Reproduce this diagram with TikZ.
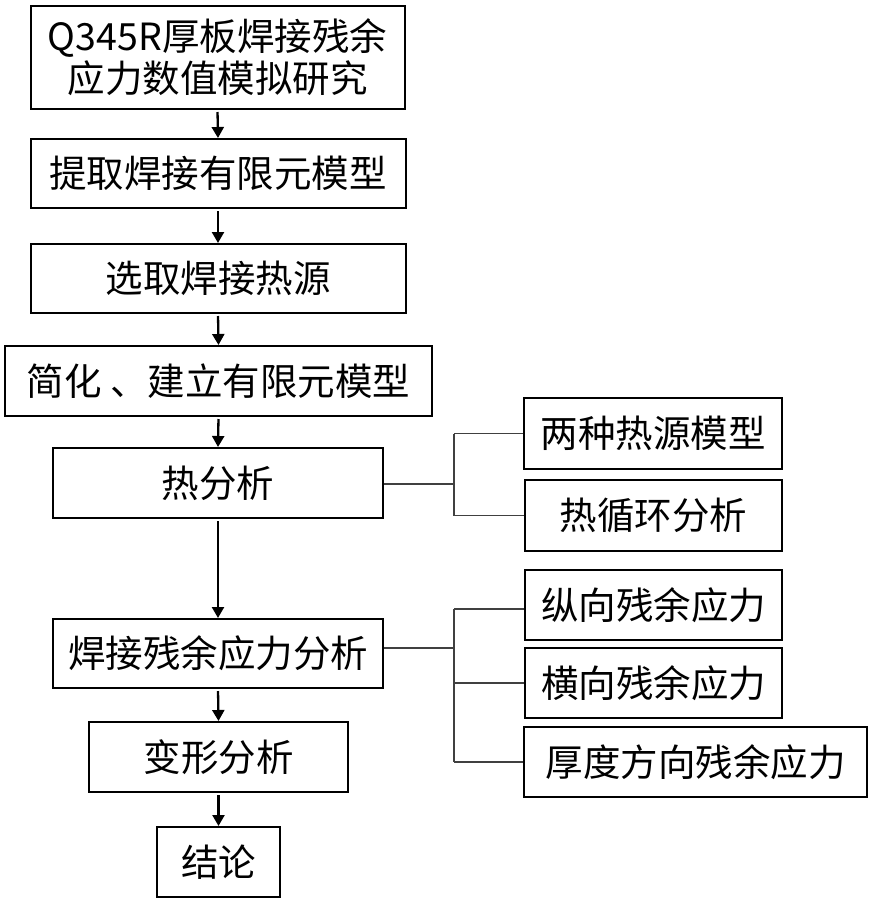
\documentclass[tikz,border=0pt]{standalone}
\usepackage{fontspec}
\setmainfont{Noto Sans CJK SC}
\usetikzlibrary{arrows.meta}
\begin{document}
\begin{tikzpicture}[x=1pt,y=-1pt,
  box/.style={draw, line width=2pt, inner sep=0pt, font=\fontsize{37.5}{42}\selectfont, align=center},
  arr/.style={line width=2.3pt, -{Triangle[length=11pt,width=12pt]}, shorten <=2pt},
  br/.style={line width=1.1pt, draw=black!75}]
\useasboundingbox (0,0) rectangle (871,908);
% main column
\node[box, minimum width=374pt, minimum height=103pt] (n1) at (217.5,57.5) {Q345R厚板焊接残余\\应力数值模拟研究};
\node[box, minimum width=375pt, minimum height=69pt] (n2) at (218,173.5) {提取焊接有限元模型};
\node[box, minimum width=375pt, minimum height=69pt] (n3) at (218,278.5) {选取焊接热源};
\node[box, minimum width=427pt, minimum height=70pt] (n4) at (218.5,381) {简化 、建立有限元模型};
\node[box, minimum width=330pt, minimum height=70pt] (n5) at (218,483) {热分析};
\node[box, minimum width=330pt, minimum height=69pt] (n6) at (218,653.5) {焊接残余应力分析};
\node[box, minimum width=259pt, minimum height=70pt] (n7) at (218.5,757) {变形分析};
\node[box, minimum width=123pt, minimum height=70pt] (n8) at (218.5,862) {结论};
% right column
\node[box, minimum width=258pt, minimum height=71pt] (r1) at (653,433.5) {两种热源模型};
\node[box, minimum width=257pt, minimum height=71pt] (r2) at (653.5,515.5) {热循环分析};
\node[box, minimum width=257pt, minimum height=70pt] (r3) at (653.5,605) {纵向残余应力};
\node[box, minimum width=257pt, minimum height=70pt] (r4) at (653.5,683) {横向残余应力};
\node[box, minimum width=343pt, minimum height=70pt] (r5) at (695.5,762) {厚度方向残余应力};
% arrows
\draw[arr] (n1.south) -- (n2.north);
\draw[arr] (n2.south) -- (n3.north);
\draw[arr] (n3.south) -- (n4.north);
\draw[arr] (n4.south) -- (n5.north);
\draw[arr] (n5.south) -- (n6.north);
\draw[arr] (n6.south) -- (n7.north);
\draw[arr] (n7.south) -- (n8.north);
% brackets
\coordinate (j1) at (454,484);
\coordinate (j2) at (454,648);
\draw[br] (n5.east |- j1) -- (j1);
\draw[br] (j1 |- r1.west) -- (j1 |- r2.west);
\draw[br] (j1 |- r1.west) -- (r1.west);
\draw[br] (j1 |- r2.west) -- (r2.west);
\draw[br] (n6.east |- j2) -- (j2);
\draw[br] ([yshift=-4pt]j1 |- r3.west) -- (j1 |- r5.west);
\draw[br] ([yshift=-4pt]j1 |- r3.west) -- ([yshift=-4pt]r3.west);
\draw[br] (j1 |- r4.west) -- (r4.west);
\draw[br] (j1 |- r5.west) -- (r5.west);
\end{tikzpicture}
\end{document}
